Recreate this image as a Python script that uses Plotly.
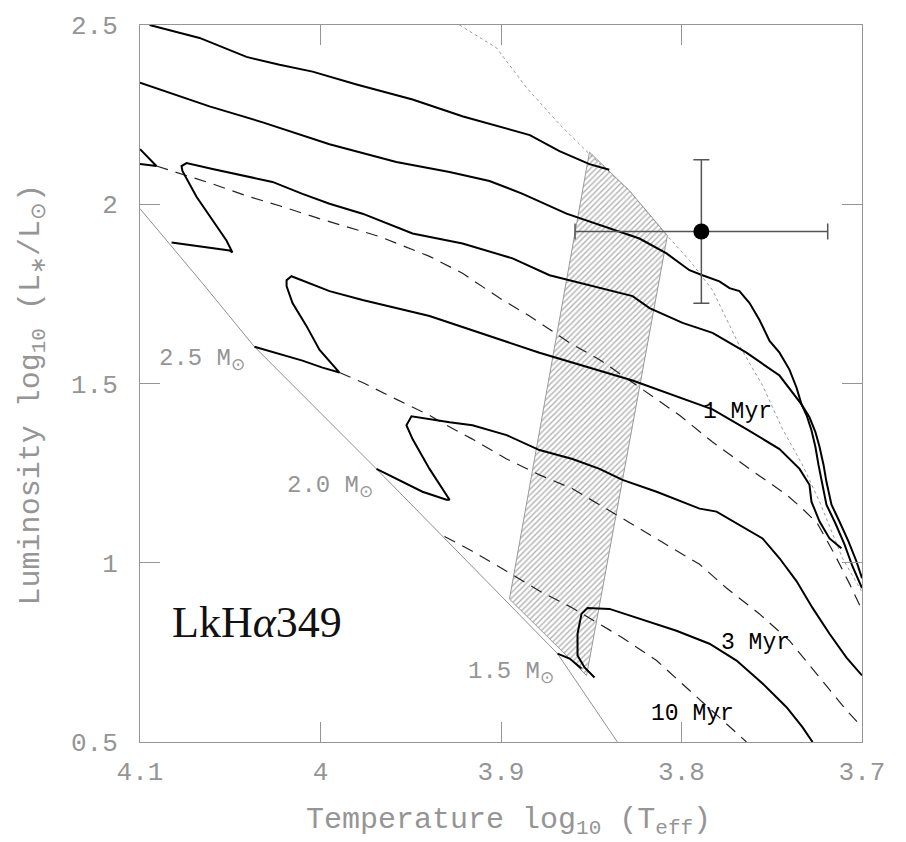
import plotly.graph_objects as go

# ---------------- data (log Teff, log L) ----------------
trackA_x = [4.0947, 4.067, 4.041, 4.0227, 4.0044, 3.980, 3.949, 3.921, 3.884, 3.8676, 3.851, 3.840]
trackA_y = [2.5, 2.464, 2.411, 2.389, 2.370, 2.334, 2.292, 2.245, 2.193, 2.148, 2.112, 2.096]

trackB_x = [4.1, 4.0615, 4.032, 3.995, 3.958, 3.9285, 3.9064, 3.888, 3.8637, 3.836, 3.8233, 3.8083,
            3.7956, 3.7884, 3.779, 3.7734, 3.7679, 3.7623, 3.7568, 3.7512, 3.7457, 3.7402, 3.7363,
            3.7335, 3.7307, 3.7280, 3.7258, 3.7241, 3.7224, 3.7197, 3.7147, 3.7097, 3.7053, 3.7]
trackB_y = [2.339, 2.273, 2.2285, 2.1676, 2.1177, 2.090, 2.065, 2.029, 1.9737, 1.9266, 1.9044, 1.863,
            1.816, 1.802, 1.785, 1.766, 1.7576, 1.7244, 1.6773, 1.619, 1.5859, 1.5388, 1.4889,
            1.4418, 1.4114, 1.3698, 1.3227, 1.2729, 1.2258, 1.1620, 1.1094, 1.0512, 0.9903, 0.9294]

trackC_x = [4.0825, 4.0504, 4.0488, 4.0521, 4.0687, 4.0765, 4.077, 4.0742, 4.0598, 4.0410, 4.0266,
            4.0100, 3.9950, 3.9767, 3.9490, 3.9213, 3.8936, 3.8731, 3.8549, 3.8271, 3.8177, 3.7994,
            3.7828, 3.7640, 3.7457, 3.7385, 3.7335, 3.7291, 3.7258, 3.7235, 3.7213, 3.7197, 3.7169,
            3.7125, 3.7075, 3.7031, 3.7]
trackC_y = [1.8934, 1.8712, 1.8657, 1.8989, 2.0208, 2.0928, 2.1066, 2.1150, 2.0983, 2.0789, 2.0623,
            2.0291, 2.0014, 1.9737, 1.9183, 1.8906, 1.849, 1.802, 1.7798, 1.7438, 1.7105, 1.6690,
            1.6413, 1.5859, 1.5222, 1.4751, 1.4418, 1.4058, 1.3643, 1.3227, 1.2729, 1.2258, 1.1620,
            1.1150, 1.0596, 1.0042, 0.9571]

trackD_x = [4.0366, 4.0100, 3.9989, 3.9895, 4.0006, 4.0078, 4.0155, 4.0188, 4.0188, 4.0161, 3.9950,
            3.9767, 3.9396, 3.9119, 3.8787, 3.8271, 3.7828, 3.7640, 3.7457, 3.7346, 3.7291, 3.7280,
            3.7235, 3.7180, 3.7114]
trackD_y = [1.6025, 1.5637, 1.5443, 1.5305, 1.5942, 1.6607, 1.7244, 1.7715, 1.7881, 1.7992, 1.7576,
            1.7327, 1.6884, 1.6413, 1.5859, 1.5083, 1.4280, 1.3726, 1.3172, 1.2618, 1.2175, 1.1704,
            1.1150, 1.0679, 1.0402]

trackE_x = [3.9690, 3.9435, 3.9302, 3.9285, 3.9396, 3.9490, 3.9524, 3.9496, 3.9285, 3.9158, 3.8969,
            3.8787, 3.8604, 3.8454, 3.8327, 3.8138, 3.7900, 3.7806, 3.7551, 3.7457, 3.7363, 3.7274,
            3.7180, 3.7086, 3.7]
trackE_y = [1.2618, 1.1981, 1.1759, 1.1759, 1.2618, 1.3449, 1.3837, 1.4086, 1.3920, 1.3837, 1.3560,
            1.3144, 1.2895, 1.2618, 1.2313, 1.1981, 1.1510, 1.1427, 1.0679, 1.0125, 0.9488, 0.8740,
            0.8019, 0.7355, 0.6856]

trackF_x = [3.8687, 3.8620, 3.8554, None, 3.8482, 3.8537, 3.8576, 3.8576, 3.8554, 3.8521, 3.8399,
            3.8233, 3.8028, 3.7845, 3.7695, 3.7551, 3.7418, 3.733, 3.7274]
trackF_y = [0.7465, 0.7327, 0.7050, None, 0.6801, 0.7078, 0.7410, 0.8019, 0.8573, 0.8740, 0.8712,
            0.8435, 0.8102, 0.7742, 0.7271, 0.6634, 0.5970, 0.5416, 0.5]

hook_x = [4.1, 4.0909, 4.1]
hook_y = [2.1537, 2.1066, 2.1122]

iso1_x = [4.0909, 4.082, 4.0598, 4.0410, 4.0227, 4.0006, 3.9673, 3.9396, 3.9213, 3.9008, 3.8842,
          3.8620, 3.8454, 3.8271, 3.8011, 3.7828, 3.7623, 3.7418, 3.7330, 3.7247, 3.7152, 3.7068, 3.7]
iso1_y = [2.1066, 2.0928, 2.0568, 2.0235, 1.9958, 1.9598, 1.9100, 1.8546, 1.8075, 1.7382, 1.6884,
          1.6136, 1.5665, 1.5028, 1.4114, 1.3366, 1.2618, 1.1898, 1.1510, 1.1094, 1.0235, 0.9404, 0.8684]

iso2_x = [3.9895, 3.9767, 3.9579, 3.9396, 3.9302, 3.9158, 3.8969, 3.8787, 3.8604, 3.8416, 3.8233,
          3.805, 3.7900, 3.7751, 3.7568, 3.7402, 3.7235, 3.7086, 3.7]
iso2_y = [1.5305, 1.5028, 1.4557, 1.4114, 1.3837, 1.3449, 1.2895, 1.2452, 1.2064, 1.1510, 1.0956,
          1.0402, 0.9958, 0.9294, 0.8573, 0.7825, 0.6801, 0.5886, 0.5416]

iso3_x = [3.9313, 3.9158, 3.8969, 3.8787, 3.8604, 3.8416, 3.8327, 3.8138, 3.7956, 3.7773, 3.7640]
iso3_y = [1.0734, 1.0319, 0.9765, 0.9211, 0.8740, 0.8186, 0.7909, 0.7271, 0.6440, 0.5609, 0.5]

zams_x = [4.1, 4.0654, 4.0366, 3.9690, 3.9080, 3.8687, 3.8355]
zams_y = [1.9875, 1.7798, 1.6025, 1.2618, 0.9488, 0.7465, 0.5]

birth_x = [3.9230, 3.9025, 3.8859, 3.8676, 3.8510, 3.8288, 3.8105, 3.7956, 3.7828, 3.7679, 3.7551,
           3.7440, 3.7330, 3.7235, 3.7108, 3.7003]
birth_y = [2.5, 2.4363, 2.3255, 2.2230, 2.1399, 2.0374, 1.9266, 1.8435, 1.7604, 1.6053, 1.4945,
           1.3726, 1.2729, 1.1704, 1.0125, 0.9211]

band_x = [3.8510, 3.8288, 3.8078, 3.8526, 3.8953, 3.8510]
band_y = [2.1454, 2.0374, 1.9127, 0.6856, 0.8989, 2.1454]

star_x = [3.789]
star_y = [1.924]
star_xerr = [0.07]
star_yerr = [0.2]

mass_labels = ["2.5 M<sub>⊙</sub>", "2.0 M<sub>⊙</sub>", "1.5 M<sub>⊙</sub>"]
mass_lx = [4.0654, 3.995, 3.8947]
mass_ly = [1.5665, 1.2119, 0.6911]

age_labels = ["1 Myr", "3 Myr", "10 Myr"]
age_lx = [3.769, 3.759, 3.7939]
age_ly = [1.4197, 0.777, 0.5776]

MONO = "Liberation Mono"
SERIF = "Liberation Serif"
GRAY = "#959595"

fig = go.Figure()

# hatched band
fig.add_trace(go.Scatter(x=band_x, y=band_y, mode="lines", fill="toself",
                         line=dict(color="#999999", width=1),
                         fillcolor="rgba(0,0,0,0)",
                         fillpattern=dict(shape="/", fgcolor="#666666", bgcolor="white",
                                          size=4, solidity=0.35),
                         hoverinfo="skip", showlegend=False))

# ZAMS and birthline
fig.add_trace(go.Scatter(x=zams_x, y=zams_y, mode="lines", line=dict(color="#909090", width=1),
                         showlegend=False))
fig.add_trace(go.Scatter(x=birth_x, y=birth_y, mode="lines",
                         line=dict(color="#999999", width=1, dash="dot"), showlegend=False))

# isochrones
for ix, iy in [(iso1_x, iso1_y), (iso2_x, iso2_y), (iso3_x, iso3_y)]:
    fig.add_trace(go.Scatter(x=ix, y=iy, mode="lines",
                             line=dict(color="#222222", width=1.2, dash="12px,8px"),
                             showlegend=False))

# evolutionary tracks
for tx, ty in [(trackA_x, trackA_y), (trackB_x, trackB_y), (trackC_x, trackC_y),
               (trackD_x, trackD_y), (trackE_x, trackE_y), (trackF_x, trackF_y),
               (hook_x, hook_y)]:
    fig.add_trace(go.Scatter(x=tx, y=ty, mode="lines", line=dict(color="black", width=2),
                             connectgaps=False, showlegend=False))

# LkHa 349 data point
fig.add_trace(go.Scatter(x=star_x, y=star_y, mode="markers",
                         marker=dict(color="black", size=16),
                         error_x=dict(type="data", array=star_xerr, color="#555555", thickness=1.5, width=8),
                         error_y=dict(type="data", array=star_yerr, color="#555555", thickness=1.5, width=8),
                         showlegend=False))

# labels
for t, x, y in zip(mass_labels, mass_lx, mass_ly):
    fig.add_annotation(x=x, y=y, text=t, showarrow=False,
                       font=dict(family=MONO, size=24, color=GRAY))
for t, x, y in zip(age_labels, age_lx, age_ly):
    fig.add_annotation(x=x, y=y, text=t, showarrow=False,
                       font=dict(family=MONO, size=23, color="black"))
fig.add_annotation(x=4.035, y=0.8324, text="LkH<i>α</i>349", showarrow=False,
                   font=dict(family=SERIF, size=44, color="#111111"))

# axis titles
fig.add_annotation(xref="paper", yref="paper", x=0.511, y=-0.1108,
                   xanchor="center", yanchor="middle",
                   text="Temperature log<sub>10</sub> (T<sub>eff</sub>)", showarrow=False,
                   font=dict(family=MONO, size=30, color=GRAY))
fig.add_annotation(xref="paper", yref="paper", x=-0.1496, y=0.4848, textangle=-90,
                   xanchor="center", yanchor="middle",
                   text="Luminosity log<sub>10</sub> (L<sub>∗</sub>/L<sub>⊙</sub>)", showarrow=False,
                   font=dict(family=MONO, size=30, color=GRAY))

axis_common = dict(showline=True, mirror="ticks", linecolor=GRAY, linewidth=1,
                   ticks="inside", ticklen=20, tickwidth=1, tickcolor=GRAY,
                   showgrid=False, zeroline=False,
                   tickfont=dict(family=MONO, size=26, color=GRAY))

fig.update_xaxes(range=[4.1, 3.7], tickvals=[4.1, 4.0, 3.9, 3.8, 3.7],
                 ticktext=["4.1", "4", "3.9", "3.8", "3.7"], ticklabelstandoff=6,
                 **axis_common)
fig.update_yaxes(range=[0.5, 2.5], tickvals=[0.5, 1.0, 1.5, 2.0, 2.5],
                 ticktext=["0.5", "1", "1.5", "2", "2.5"], ticklabelstandoff=16,
                 **axis_common)

fig.update_layout(width=906, height=842, margin=dict(l=140, r=44, t=20, b=100),
                  plot_bgcolor="white", paper_bgcolor="white", showlegend=False)

fig.write_html("out.html")
